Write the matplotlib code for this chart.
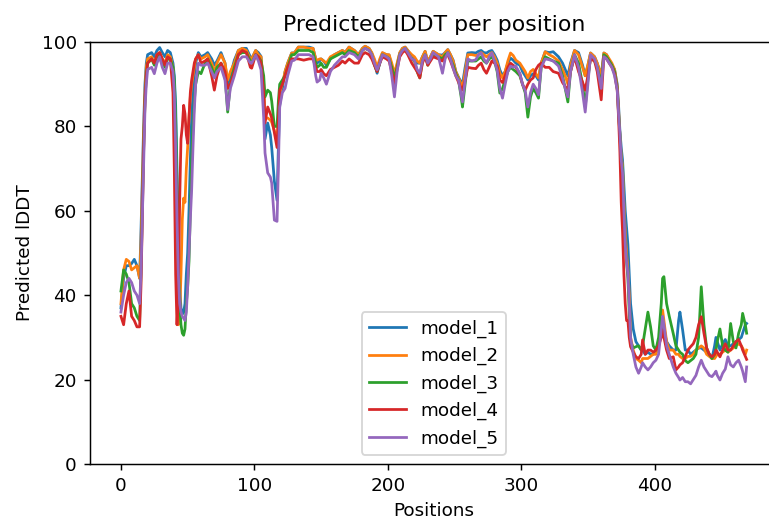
import matplotlib
matplotlib.use("Agg")
import matplotlib.pyplot as plt

positions = [0, 2, 4, 6, 8, 10, 12, 14, 15, 16, 17, 18, 19, 20,
             23, 25, 27, 29, 31, 33, 35, 37, 39,
             40, 41, 42, 43, 44, 45, 46, 47, 48, 49, 50, 51, 52, 53, 54, 55, 56, 58,
             60, 63, 65, 68, 70, 72, 75, 78, 80, 82, 85, 88, 91, 94, 97, 98, 101, 103, 105,
             107, 108, 110, 112, 113, 115, 117, 118, 119, 121, 123, 125, 128,
             130, 133, 137, 141, 144, 146, 147, 149, 150, 152, 154, 157, 160, 163, 166, 168,
             171, 175, 178, 181, 183, 186, 188, 190, 192, 194, 196, 199, 201, 203, 205, 207,
             209, 211, 213, 215, 218, 220, 222, 224, 226, 228, 230, 232, 234, 238, 241, 243,
             245, 247, 249, 251, 253, 255, 256, 258, 260, 263, 266, 268, 270, 272, 274, 276,
             278, 280, 282, 284, 286, 288, 290, 292, 294, 296, 299, 301, 303, 305, 307, 309,
             311, 313, 315, 318, 321, 324, 328, 331, 333, 335, 337, 340, 343, 346, 348, 350,
             352, 355, 357, 360, 362, 364, 366, 368, 370, 372,
             373, 374, 375, 376, 377, 378, 379, 380, 381, 382, 384, 386, 388, 390,
             391, 393, 395, 397, 399, 401, 403, 405, 406, 407, 409, 411, 414, 416, 418, 419,
             421, 423, 425, 427, 429, 431, 433, 435, 437, 439, 441, 443, 445, 446, 447, 449,
             451, 453, 455, 457, 459, 461, 463, 465, 466, 468, 469]

model_1 = [37, 44, 47, 47, 47.5, 48.5, 47, 44, 55, 68, 80, 90, 95, 97,
           97.5, 96.5, 98, 98.7, 97.5, 96.5, 98, 97.5, 95,
           92, 85, 70, 55, 42, 37, 35.5, 36, 38, 45, 50, 60, 72, 82, 88, 92, 95, 97.5,
           96.5, 97, 97.5, 96, 94.5, 95.5, 97.5, 95, 90, 92, 95.7, 98, 98.5, 98.5, 96.5, 96, 98, 97.5, 96.6,
           88, 77, 80.8, 78, 75, 67, 62.5, 75, 85, 89, 93, 95, 97.4,
           97.4, 98.8, 98.8, 98.8, 98.5, 96, 95, 95.5, 96, 95.5, 94.5, 96, 97, 97.5, 98, 97.5,
           98.8, 98, 97, 98.5, 99, 98.5, 97.4, 95, 92.6, 95, 97.4, 97, 96.9, 94, 92, 94.5,
           97.4, 98.5, 98.8, 98, 96.5, 96, 95, 95, 96.5, 97.8, 95, 96.5, 97.8, 97, 96.9, 97.5,
           98.2, 97, 95.7, 93, 91.7, 90.5, 90, 94, 97.4, 97.5, 97.4, 97.8, 98, 97.5, 97.4, 97.8,
           98, 97, 95.7, 93.4, 92, 93, 95, 96.2, 95.7, 95, 94.5, 93, 92, 91, 92, 92.5,
           92, 91, 95, 97.7, 97.5, 97.7, 96.5, 95, 93.5, 92, 95, 98, 97.5, 94.5, 92, 94.5,
           97.4, 96.5, 95, 92, 97.4, 97, 95.5, 94.5, 93.5, 90,
           85, 79, 75, 72, 66, 60, 56, 52, 45, 38, 32, 29, 28, 27,
           27, 26, 26.5, 26, 26, 27, 29, 31, 33.3, 32, 29, 28, 27, 27, 34, 36,
           31.8, 27, 27, 26, 26.5, 27, 27.5, 27.5, 27, 26.5, 26, 25, 28, 30, 29, 27,
           28.5, 29.5, 28, 28, 28.5, 29, 29.5, 30, 31, 33, 33.3]

model_2 = [38, 46, 48.5, 48, 46, 46.5, 47, 44, 52, 65, 78, 88, 94, 96,
           96.5, 95, 97, 97.5, 96, 95, 97, 96.5, 94,
           88, 70, 50, 33, 35, 45, 58, 63, 62, 70, 75, 82, 87, 90, 92, 94, 96, 97,
           96, 96.5, 97, 95, 93, 95, 97, 95, 91, 93, 95, 98, 98.5, 98, 96, 96, 98, 97, 96.5,
           90, 82, 82, 81.5, 81, 79, 77, 82, 88, 90, 93, 95, 97.4,
           97.4, 98.8, 98.8, 98.5, 98.5, 96, 95.7, 96, 96, 95.5, 95, 96.5, 97, 97.5, 98, 97.5,
           98.8, 98, 97, 98.5, 99, 98.5, 97.5, 96, 94, 96, 97.5, 97, 97, 95, 92.5, 95,
           97.5, 98.5, 98.8, 98, 97, 96.5, 95.5, 95, 96.5, 97.8, 95.5, 96.5, 97.8, 97, 96.5, 97.5,
           98.2, 97, 95.5, 93, 91.5, 90, 89, 93, 97, 97, 96.8, 97, 97.5, 97, 96.5, 97,
           97.5, 96.5, 95, 92.6, 91.5, 93, 95.5, 97.4, 96.8, 95.7, 95, 94, 93, 91.5, 93, 93.5,
           92.5, 91.5, 95, 97.7, 97, 96.5, 95.5, 93.5, 92, 90, 94.5, 98, 97, 94, 92, 94.5,
           97.4, 96.5, 95, 92, 97.4, 97, 96, 95, 93.5, 89.5,
           84, 78, 73, 70.4, 62, 55, 50, 46, 40, 30, 27, 25, 24.6, 24,
           25, 25, 25, 25.5, 26, 26, 28, 33, 36.5, 34, 29, 27, 27, 26, 26, 25.5,
           25, 25, 25.5, 25.5, 26, 27, 27.5, 28, 27.5, 26, 25.5, 25, 25, 25.5, 26, 26,
           26.5, 27, 26.5, 27, 27.5, 28, 28.5, 28, 27.5, 26, 27]

model_3 = [41, 46, 45, 43, 38, 37, 35, 34, 45, 60, 75, 86, 92, 95,
           96, 94.5, 96.5, 97, 95.5, 94, 96, 96, 94,
           91, 82, 65, 48, 38, 33, 31, 30.5, 32, 38, 42, 48, 60, 72, 80, 86, 90, 93,
           92.5, 95, 96, 94, 92, 94, 95, 92, 83.4, 90, 94, 97, 97.5, 97.5, 95.5, 95, 97, 96.5, 95.5,
           92, 87, 88.6, 88, 86, 80, 80, 86, 90, 91, 92, 94, 97,
           97, 98, 98, 98, 97.5, 95, 94, 94.5, 95, 94, 94, 96, 96.5, 97, 97.5, 97,
           98, 97.5, 96.5, 98, 98.5, 98, 97, 94.5, 93, 95, 97, 96.5, 96, 94, 91.5, 94,
           97, 98, 98.5, 97.5, 96, 95.5, 93, 91.5, 95.5, 97, 94.5, 96, 97, 96.5, 96, 97,
           97.5, 96, 94.5, 92.5, 91, 87, 84.6, 90, 95.5, 95.5, 95.5, 96, 96.5, 95.5, 95, 96,
           96.5, 95.5, 93, 87.9, 89, 91, 93, 94, 93.5, 93, 92, 90, 88, 82.2, 87, 89,
           88, 86.7, 94, 96.5, 96, 95.5, 95, 92, 89, 85.8, 93, 97, 95, 90, 84.6, 91,
           96.5, 95.5, 94, 90, 97, 96.5, 95.5, 94.5, 93, 89,
           83, 78, 72, 70, 60, 52, 48, 44, 36, 29, 27.5, 27.8, 28, 27,
           28, 32, 36, 32.5, 28, 27, 30, 38, 44, 44.4, 38, 35, 30.9, 28, 27, 26.5,
           26, 24.5, 24, 24.5, 25, 26, 30, 42, 33, 27.5, 26, 25, 26, 27, 29, 32,
           28, 27, 26.5, 33.3, 29, 27.5, 31, 33, 35.7, 33, 31]

model_4 = [35, 33, 38, 41, 35, 34, 32.5, 32.5, 42, 58, 74, 86, 92, 95,
           96, 95, 97, 97.5, 96, 94.5, 96.5, 96, 88,
           70, 45, 33, 40, 62, 77, 80, 85, 83, 78, 76, 82, 88, 91, 93, 95, 96, 97,
           95, 95.5, 96, 92, 88.6, 92, 95, 93, 89, 90, 93, 97, 98, 97.5, 94, 93.8, 97, 96.5, 95,
           88, 80.8, 84.6, 83, 82, 78.5, 75, 82, 88.6, 90, 92, 94, 96,
           96, 96, 95.7, 96, 96, 94, 93, 93, 93.5, 92.5, 92, 93.5, 94, 94.5, 95.5, 95,
           96, 95, 95, 97, 97.5, 97, 96, 94.5, 93, 95, 96.5, 96, 95.5, 93, 90, 93.5,
           96.5, 97.5, 98, 97, 95, 94, 93, 91.5, 95, 96.5, 94.5, 95.5, 96.5, 96, 95.5, 96.5,
           97, 95.5, 93.8, 92, 90.5, 89, 88.6, 91, 94, 93.8, 93.7, 94.5, 95, 93.5, 92.6, 94,
           95.5, 95, 94.3, 91, 90.4, 92, 94, 95, 94.5, 94, 92.5, 90, 88.6, 90, 91, 91.5,
           93.5, 94.5, 95, 94, 94, 93, 92.6, 90.4, 89.5, 88.6, 93, 96.5, 93, 90.5, 88.6, 92,
           96, 95.5, 93, 86.3, 96.5, 96, 95, 94, 92.5, 88.6,
           82, 74, 62, 55, 45, 38, 34, 34, 30, 27.8, 26.5, 25.4, 25, 26,
           29.4, 26, 27, 27, 26.5, 27, 28, 30, 31.8, 30, 27, 25, 25.4, 22.3, 23, 23.5,
           24, 25.5, 27, 27.8, 28.5, 30, 33, 34.9, 31, 27.5, 26, 25.4, 26, 27, 26.5, 25.4,
           27, 28.5, 27, 27, 28, 29, 29.5, 28, 27, 25.5, 24.8]

model_5 = [36, 40, 43, 44, 43, 41, 40, 38, 45, 58, 72, 84, 90, 93.5,
           94, 92.5, 95, 96.5, 94, 92.5, 95, 95, 93,
           88, 75, 58, 45, 38, 36, 35, 34.5, 34, 36, 42, 50, 58, 65, 75, 84, 90, 95,
           94.5, 94.5, 95, 93, 91.5, 93, 94, 91, 84, 89, 92, 95.5, 96.5, 96.5, 95, 95, 96.9, 95.5, 93.4,
           82, 73.7, 69, 68, 66.6, 57.8, 57.5, 70, 84.6, 88, 89, 92, 95.5,
           95.7, 97, 97, 97, 96.5, 92, 90.5, 91, 92.6, 91.5, 90, 93, 94.5, 95.5, 96.5, 96.5,
           97.5, 97, 96, 98, 98.5, 98, 97, 95, 93.4, 95, 97, 96.5, 96, 92, 87, 93,
           97, 98, 98.5, 97.5, 96, 95.7, 93.5, 92.6, 95.5, 97, 95, 96, 97.5, 96.5, 92.6, 96,
           97.5, 96, 93.8, 92, 91, 87.5, 85.8, 91, 96, 95.5, 95.8, 97, 97.4, 96, 95, 96.5,
           97.4, 95.5, 93.4, 89, 86.7, 90, 93, 94.3, 94, 94.3, 92.5, 90, 88.5, 84.6, 88, 90,
           89, 87.5, 94, 96, 95.8, 95.5, 94.3, 91.4, 89, 87, 93, 97, 94, 88, 83.4, 90,
           97, 96, 94, 89, 96.5, 96, 95, 94, 92, 88.6,
           83, 78.4, 72, 69, 60, 52, 48, 45, 38, 30, 26, 23, 21.5, 23,
           24, 23, 22.3, 23, 24, 24.6, 26, 32, 35, 33, 28, 26, 23, 21.5, 20.5, 19.9,
           20.5, 19.5, 19.5, 19, 20, 21, 23, 24.6, 23, 22, 21, 20.7, 21.5, 22, 21, 19.9,
           21.5, 22.5, 25.4, 23.5, 23, 24, 24.6, 23, 22, 19.5, 23]

models = {"model_1": model_1, "model_2": model_2, "model_3": model_3,
          "model_4": model_4, "model_5": model_5}

fig = plt.figure(figsize=(769 / 132, 524 / 132), dpi=132)
ax = fig.add_axes([0.1166, 0.1145, 0.895, 0.8053])

for name, values in models.items():
    assert len(values) == len(positions), name
    ax.plot(positions, values, label=name)

ax.set_ylim(0, 100)
ax.set_title("Predicted lDDT per position")
ax.set_xlabel("Positions")
ax.set_ylabel("Predicted lDDT")
ax.legend(loc="lower center")

fig.savefig("out.png", dpi=132)
